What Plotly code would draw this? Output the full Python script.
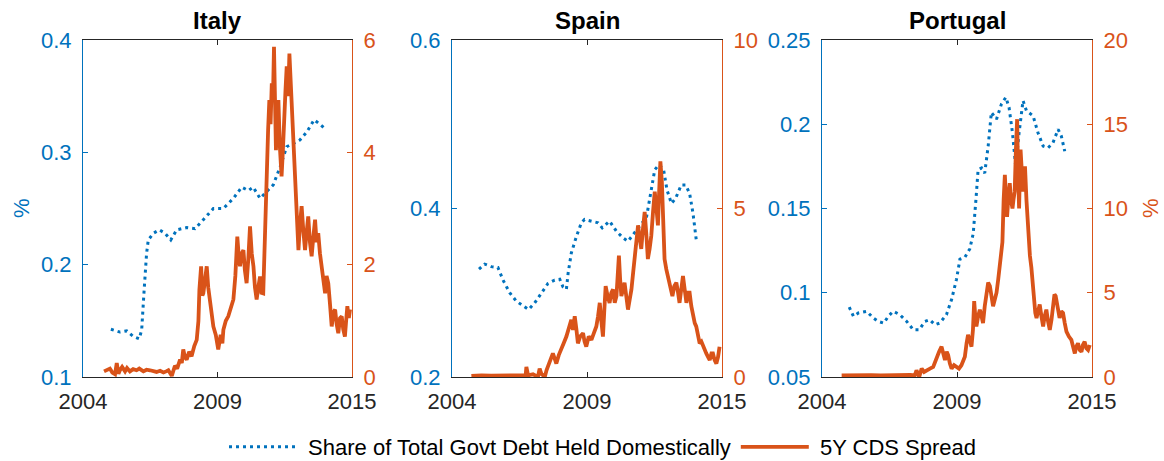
import plotly.graph_objects as go

# ---------------- data (decimal years) ----------------
countries = ["Italy", "Spain", "Portugal"]

italy_share_year = [2005.14, 2005.51, 2005.79, 2006.06, 2006.30, 2006.40, 2006.49, 2006.60, 2006.67,
                    2006.88, 2007.12, 2007.35, 2007.59, 2007.83, 2008.24, 2008.58, 2008.92, 2009.33,
                    2009.74, 2010.15, 2010.49, 2010.76, 2010.96, 2011.24, 2011.51, 2011.78, 2012.06,
                    2012.33, 2012.60, 2012.87, 2013.15, 2013.45, 2013.69, 2013.90]
italy_share = [0.1425, 0.140, 0.141, 0.136, 0.134, 0.142, 0.174, 0.210, 0.222,
               0.228, 0.231, 0.228, 0.222, 0.231, 0.233, 0.232, 0.240, 0.250,
               0.250, 0.259, 0.269, 0.266, 0.269, 0.259, 0.265, 0.271, 0.287,
               0.305, 0.308, 0.311, 0.318, 0.329, 0.325, 0.321]

italy_cds_year = [2004.86, 2005.00, 2005.10, 2005.20, 2005.31, 2005.38, 2005.45, 2005.51, 2005.60, 2005.72,
                  2005.80, 2005.92, 2006.05, 2006.19, 2006.30, 2006.47, 2006.60, 2006.74, 2006.90, 2007.01,
                  2007.15, 2007.29, 2007.40, 2007.49, 2007.63, 2007.70, 2007.76, 2007.85, 2007.97, 2008.04,
                  2008.10, 2008.17, 2008.24, 2008.34, 2008.44, 2008.55, 2008.65, 2008.72, 2008.76, 2008.83,
                  2008.88, 2008.92, 2009.00, 2009.06, 2009.12, 2009.19, 2009.26, 2009.33, 2009.43, 2009.53,
                  2009.63, 2009.70, 2009.74, 2009.84, 2009.94, 2010.05, 2010.15, 2010.23, 2010.31, 2010.36,
                  2010.42, 2010.49, 2010.56, 2010.62, 2010.69, 2010.76, 2010.83, 2010.90, 2010.97, 2011.03,
                  2011.10, 2011.17, 2011.24, 2011.30, 2011.37, 2011.44, 2011.51, 2011.57, 2011.62, 2011.67,
                  2011.72, 2011.77, 2011.81, 2011.85, 2011.89, 2011.94, 2011.99, 2012.05, 2012.12, 2012.17,
                  2012.22, 2012.28, 2012.33, 2012.39, 2012.44, 2012.49, 2012.53, 2012.57, 2012.60, 2012.66,
                  2012.71, 2012.76, 2012.81, 2012.87, 2012.94, 2013.01, 2013.08, 2013.14, 2013.21, 2013.28,
                  2013.35, 2013.42, 2013.49, 2013.55, 2013.62, 2013.69, 2013.76, 2013.83, 2013.90, 2013.96,
                  2014.03, 2014.10, 2014.17, 2014.24, 2014.31, 2014.37, 2014.44, 2014.51, 2014.58, 2014.64,
                  2014.71, 2014.76, 2014.81, 2014.87, 2014.92]
italy_cds = [0.10, 0.14, 0.15, 0.08, 0.05, 0.25, 0.06, 0.12, 0.18, 0.10,
             0.16, 0.10, 0.14, 0.12, 0.15, 0.10, 0.13, 0.12, 0.10, 0.09,
             0.11, 0.08, 0.10, 0.12, 0.02, 0.15, 0.20, 0.15, 0.31, 0.25,
             0.49, 0.35, 0.31, 0.45, 0.37, 0.55, 0.66, 1.00, 1.55, 1.97,
             1.45, 1.49, 1.85, 1.97, 1.60, 1.38, 1.10, 0.90, 0.75, 0.49,
             0.75, 0.60, 0.84, 1.00, 1.08, 1.25, 1.38, 1.80, 2.50, 2.20,
             1.97, 2.20, 2.26, 1.90, 1.67, 2.10, 2.68, 2.20, 1.97, 1.60,
             1.38, 1.60, 1.79, 1.50, 1.49, 2.50, 3.75, 4.40, 4.93, 4.50,
             5.23, 5.00, 5.88, 4.60, 4.04, 4.60, 4.93, 4.10, 3.57, 4.00,
             4.64, 5.10, 5.53, 5.00, 5.76, 5.30, 4.75, 4.30, 4.04, 3.60,
             3.15, 2.60, 2.26, 2.70, 3.04, 2.60, 2.26, 2.55, 2.86, 2.40,
             2.15, 2.50, 2.80, 2.40, 2.56, 2.20, 1.97, 1.75, 1.49, 1.80,
             1.67, 1.30, 0.90, 1.15, 1.20, 0.95, 0.78, 1.05, 1.08, 0.85,
             0.72, 1.00, 1.26, 1.05, 1.20]

spain_share_year = [2005.10, 2005.33, 2005.60, 2005.87, 2006.08, 2006.35, 2006.62, 2006.89, 2007.12,
                    2007.37, 2007.64, 2007.91, 2008.18, 2008.39, 2008.52, 2008.66, 2008.73, 2008.86,
                    2009.07, 2009.27, 2009.40, 2009.68, 2009.95, 2010.12, 2010.42, 2010.70, 2010.97,
                    2011.17, 2011.37, 2011.64, 2011.92, 2012.08, 2012.26, 2012.43, 2012.62, 2012.76,
                    2012.94, 2013.11, 2013.34, 2013.52, 2013.68, 2013.82, 2013.95]
spain_share = [0.328, 0.334, 0.331, 0.330, 0.315, 0.300, 0.290, 0.285, 0.280,
               0.288, 0.300, 0.311, 0.315, 0.316, 0.307, 0.304, 0.323, 0.347,
               0.367, 0.383, 0.387, 0.385, 0.383, 0.377, 0.385, 0.373, 0.365,
               0.361, 0.369, 0.379, 0.389, 0.418, 0.446, 0.452, 0.446, 0.422,
               0.406, 0.412, 0.428, 0.428, 0.418, 0.394, 0.363]

spain_cds_year = [2004.79, 2005.20, 2005.60, 2006.00, 2006.40, 2006.80, 2007.00, 2007.03, 2007.10,
                  2007.30, 2007.50, 2007.57, 2007.64, 2007.71, 2007.78, 2007.85, 2007.91, 2008.00,
                  2008.11, 2008.18, 2008.25, 2008.35, 2008.45, 2008.55, 2008.66, 2008.76, 2008.86,
                  2008.93, 2009.00, 2009.07, 2009.13, 2009.22, 2009.34, 2009.40, 2009.47, 2009.57,
                  2009.68, 2009.78, 2009.88, 2009.95, 2010.02, 2010.08, 2010.15, 2010.20, 2010.26,
                  2010.34, 2010.42, 2010.49, 2010.56, 2010.63, 2010.70, 2010.75, 2010.80, 2010.85,
                  2010.90, 2010.97, 2011.03, 2011.10, 2011.17, 2011.24, 2011.31, 2011.38, 2011.44,
                  2011.51, 2011.58, 2011.65, 2011.71, 2011.78, 2011.85, 2011.92, 2011.98, 2012.05,
                  2012.12, 2012.19, 2012.26, 2012.33, 2012.39, 2012.44, 2012.49, 2012.55, 2012.60,
                  2012.66, 2012.73, 2012.80, 2012.89, 2012.98, 2013.06, 2013.14, 2013.21, 2013.27,
                  2013.34, 2013.41, 2013.48, 2013.55, 2013.62, 2013.68, 2013.75, 2013.82, 2013.89,
                  2013.95, 2014.02, 2014.09, 2014.16, 2014.23, 2014.30, 2014.36, 2014.43, 2014.50,
                  2014.57, 2014.63, 2014.70, 2014.77, 2014.84, 2014.90]
spain_cds = [0.03, 0.05, 0.04, 0.05, 0.04, 0.06, 0.05, 0.30, 0.05,
             0.08, 0.00, 0.25, 0.10, 0.05, 0.00, 0.20, 0.30, 0.45,
             0.70, 0.55, 0.40, 0.65, 0.80, 1.00, 1.20, 1.50, 1.70,
             1.40, 1.80, 1.40, 1.00, 1.20, 1.30, 1.05, 0.90, 1.20,
             1.10, 1.30, 1.50, 1.80, 2.20, 1.70, 1.20, 1.90, 2.70,
             2.40, 2.20, 2.50, 2.60, 2.20, 2.40, 3.00, 3.60, 2.90,
             2.40, 2.60, 2.80, 2.40, 2.00, 2.30, 2.60, 3.10, 3.50,
             4.00, 4.50, 4.10, 3.80, 4.40, 4.90, 4.20, 3.50, 3.80,
             4.20, 4.90, 5.50, 5.00, 4.50, 5.50, 6.40, 5.80, 5.00,
             3.50, 3.20, 3.00, 2.70, 2.40, 2.70, 2.80, 2.50, 2.20,
             2.60, 3.00, 2.60, 2.20, 2.50, 2.50, 2.10, 1.80, 1.60,
             1.50, 1.20, 1.00, 1.05, 0.90, 0.80, 0.70, 0.60, 0.50,
             0.70, 0.70, 0.50, 0.40, 0.60, 0.90]

portugal_share_year = [2005.11, 2005.28, 2005.48, 2005.82, 2006.09, 2006.29, 2006.52, 2006.70, 2006.90,
                       2007.17, 2007.45, 2007.72, 2007.96, 2008.19, 2008.39, 2008.60, 2008.80, 2009.07,
                       2009.28, 2009.48, 2009.62, 2009.82, 2010.02, 2010.16, 2010.27, 2010.36, 2010.50,
                       2010.63, 2010.77, 2010.90, 2011.11, 2011.31, 2011.49, 2011.62, 2011.76, 2011.89,
                       2012.03, 2012.19, 2012.33, 2012.60, 2012.80, 2013.01, 2013.21, 2013.41, 2013.62,
                       2013.75, 2013.89]
portugal_share = [0.0915, 0.086, 0.088, 0.089, 0.085, 0.083, 0.082, 0.086, 0.089,
                  0.087, 0.083, 0.078, 0.078, 0.083, 0.084, 0.081, 0.082, 0.087,
                  0.096, 0.108, 0.120, 0.121, 0.126, 0.135, 0.155, 0.173, 0.174,
                  0.171, 0.187, 0.207, 0.203, 0.212, 0.216, 0.210, 0.195, 0.175,
                  0.195, 0.214, 0.208, 0.205, 0.195, 0.187, 0.186, 0.189, 0.197,
                  0.193, 0.184]

portugal_cds_year = [2004.80, 2005.20, 2005.60, 2006.00, 2006.40, 2006.80, 2007.20, 2007.60, 2007.78,
                     2007.85, 2007.96, 2008.06, 2008.16, 2008.26, 2008.40, 2008.53, 2008.60, 2008.67,
                     2008.77, 2008.87, 2008.94, 2009.01, 2009.08, 2009.14, 2009.21, 2009.28, 2009.38,
                     2009.48, 2009.58, 2009.68, 2009.75, 2009.82, 2009.89, 2009.95, 2010.02, 2010.09,
                     2010.15, 2010.20, 2010.25, 2010.29, 2010.36, 2010.43, 2010.50, 2010.56, 2010.63,
                     2010.70, 2010.77, 2010.84, 2010.90, 2010.97, 2011.04, 2011.11, 2011.18, 2011.24,
                     2011.30, 2011.35, 2011.40, 2011.45, 2011.50, 2011.54, 2011.60, 2011.65, 2011.70,
                     2011.76, 2011.80, 2011.85, 2011.90, 2011.95, 2011.99, 2012.03, 2012.06, 2012.09,
                     2012.14, 2012.19, 2012.23, 2012.27, 2012.33, 2012.40, 2012.47, 2012.53, 2012.58,
                     2012.63, 2012.69, 2012.74, 2012.80, 2012.87, 2012.94, 2013.01, 2013.07, 2013.14,
                     2013.21, 2013.28, 2013.35, 2013.41, 2013.47, 2013.52, 2013.60, 2013.68, 2013.75,
                     2013.82, 2013.89, 2013.96, 2014.06, 2014.16, 2014.23, 2014.30, 2014.36, 2014.43,
                     2014.50, 2014.57, 2014.63, 2014.70, 2014.77, 2014.84, 2014.91]
portugal_cds = [0.10, 0.12, 0.10, 0.11, 0.10, 0.12, 0.10, 0.12, 0.10,
                0.40, 0.00, 0.50, 0.30, 0.40, 0.50, 0.60, 0.90, 1.20,
                1.50, 1.80, 1.40, 1.00, 1.50, 1.30, 0.80, 0.50, 0.70,
                0.60, 0.50, 0.70, 0.90, 1.20, 2.00, 2.50, 2.20, 1.80,
                2.80, 4.50, 3.50, 3.00, 3.60, 4.00, 3.60, 3.20, 4.20,
                5.00, 5.60, 5.40, 4.80, 4.20, 4.60, 5.00, 5.80, 6.50,
                7.20, 8.00, 10.50, 12.00, 10.50, 9.50, 10.80, 11.50, 10.50,
                10.00, 10.50, 11.00, 13.50, 15.30, 12.00, 10.00, 12.00, 13.50,
                12.20, 11.00, 11.60, 12.50, 10.50, 8.50, 7.20, 6.50, 5.40,
                4.50, 3.80, 3.50, 3.90, 4.30, 3.60, 3.00, 3.60, 4.00,
                3.30, 2.80, 3.40, 4.30, 4.90, 4.80, 4.10, 3.50, 3.90,
                3.80, 3.20, 2.70, 2.40, 2.20, 1.80, 1.40, 1.80, 2.00,
                1.60, 1.50, 1.90, 2.10, 1.70, 1.60, 1.90]

share_data = [(italy_share_year, italy_share), (spain_share_year, spain_share),
              (portugal_share_year, portugal_share)]
cds_data = [(italy_cds_year, italy_cds), (spain_cds_year, spain_cds),
            (portugal_cds_year, portugal_cds)]

left_ranges = [[0.1, 0.4], [0.2, 0.6], [0.05, 0.25]]
left_ticks = [[0.1, 0.2, 0.3, 0.4], [0.2, 0.4, 0.6], [0.05, 0.1, 0.15, 0.2, 0.25]]
left_ticktext = [["0.1", "0.2", "0.3", "0.4"], ["0.2", "0.4", "0.6"],
                 ["0.05", "0.1", "0.15", "0.2", "0.25"]]
right_ranges = [[0, 6], [0, 10], [0, 20]]
right_ticks = [[0, 2, 4, 6], [0, 5, 10], [0, 5, 10, 15, 20]]

x_ticks = [2004, 2009.5, 2015]
x_ticktext = ["2004", "2009", "2015"]

series_names = ["Share of Total Govt Debt Held Domestically", "5Y CDS Spread"]
unit_label = "%"

# ---------------- style ----------------
BLUE = "#0072BD"
ORANGE = "#D95319"
DARK = "#262626"
FONT = "Liberation Sans, Arial, Helvetica, sans-serif"
W, H = 1164, 461
x_px = [(83, 352), (452, 722), (822, 1092)]
y_top, y_bot = 40, 377

fig = go.Figure()
layout = {}
for i in range(3):
    xa = "x" if i == 0 else f"x{i + 1}"
    yl = f"y{2 * i + 1}" if i > 0 else "y"
    yr = f"y{2 * i + 2}"
    xs, ys = share_data[i]
    fig.add_trace(go.Scatter(x=xs, y=ys, xaxis=xa, yaxis=yl, mode="lines",
                             line=dict(color=BLUE, width=3, dash="3px,4px"),
                             name="&nbsp;" + series_names[0], showlegend=(i == 0)))
    xc, yc = cds_data[i]
    fig.add_trace(go.Scatter(x=xc, y=yc, xaxis=xa, yaxis=yr, mode="lines",
                             line=dict(color=ORANGE, width=3.8),
                             name="&nbsp;" + series_names[1], showlegend=(i == 0)))

    xkey = "xaxis" if i == 0 else f"xaxis{i + 1}"
    ylkey = "yaxis" if i == 0 else f"yaxis{2 * i + 1}"
    yrkey = f"yaxis{2 * i + 2}"
    layout[xkey] = dict(domain=[x_px[i][0] / W, x_px[i][1] / W], anchor=yl,
                        range=[2004, 2015], tickvals=x_ticks, ticktext=x_ticktext,
                        ticks="inside", ticklen=5, tickcolor=DARK, showline=True,
                        linecolor=DARK, linewidth=1, mirror="ticks", showgrid=False,
                        zeroline=False, automargin=False, ticklabelstandoff=5,
                        tickfont=dict(size=22, color=DARK, family=FONT))
    layout[ylkey] = dict(domain=[1 - y_bot / H, 1 - y_top / H], anchor=xa,
                         range=left_ranges[i], tickvals=left_ticks[i],
                         ticktext=left_ticktext[i], ticks="inside", ticklen=5,
                         tickcolor=BLUE, showline=True, linecolor=BLUE, linewidth=1,
                         showgrid=False, zeroline=False, ticklabelstandoff=6,
                         automargin=False,
                         tickfont=dict(size=22, color=BLUE, family=FONT))
    layout[yrkey] = dict(overlaying=yl, anchor=xa, side="right",
                         range=right_ranges[i], tickvals=right_ticks[i],
                         ticks="inside", ticklen=5, tickcolor=ORANGE, showline=True,
                         linecolor=ORANGE, linewidth=1, showgrid=False, zeroline=False,
                         ticklabelstandoff=6, automargin=False,
                         tickfont=dict(size=22, color=ORANGE, family=FONT))

annotations = []
for i, name in enumerate(countries):
    annotations.append(dict(text=f"<b>{name}</b>", x=(x_px[i][0] + x_px[i][1]) / 2 / W,
                            y=1 - 20 / H, xref="paper", yref="paper", showarrow=False,
                            xanchor="center", yanchor="middle",
                            font=dict(size=24, color="#000000", family=FONT)))
# "%" axis labels (left of Italy, right of Portugal)
annotations.append(dict(text=unit_label, x=21 / W, y=1 - 208 / H, xref="paper", yref="paper",
                        showarrow=False, textangle=-90, xanchor="center", yanchor="middle",
                        font=dict(size=22, color=BLUE, family=FONT)))
annotations.append(dict(text=unit_label, x=1150 / W, y=1 - 208 / H, xref="paper", yref="paper",
                        showarrow=False, textangle=-90, xanchor="center", yanchor="middle",
                        font=dict(size=22, color=ORANGE, family=FONT)))

fig.update_layout(
    width=W, height=H, margin=dict(l=0, r=0, t=0, b=0, autoexpand=False),
    paper_bgcolor="white", plot_bgcolor="white",
    annotations=annotations,
    legend=dict(orientation="h", x=224 / W, xanchor="left", y=1 - 447 / H, yanchor="middle",
                itemwidth=68, font=dict(size=22, color="#000000", family=FONT),
                bgcolor="rgba(0,0,0,0)", traceorder="normal"),
    font=dict(family=FONT),
    **layout,
)

fig.write_html("out.html", config={"displayModeBar": False},
               post_script="document.body.style.margin='0';document.body.style.overflow='hidden';")
